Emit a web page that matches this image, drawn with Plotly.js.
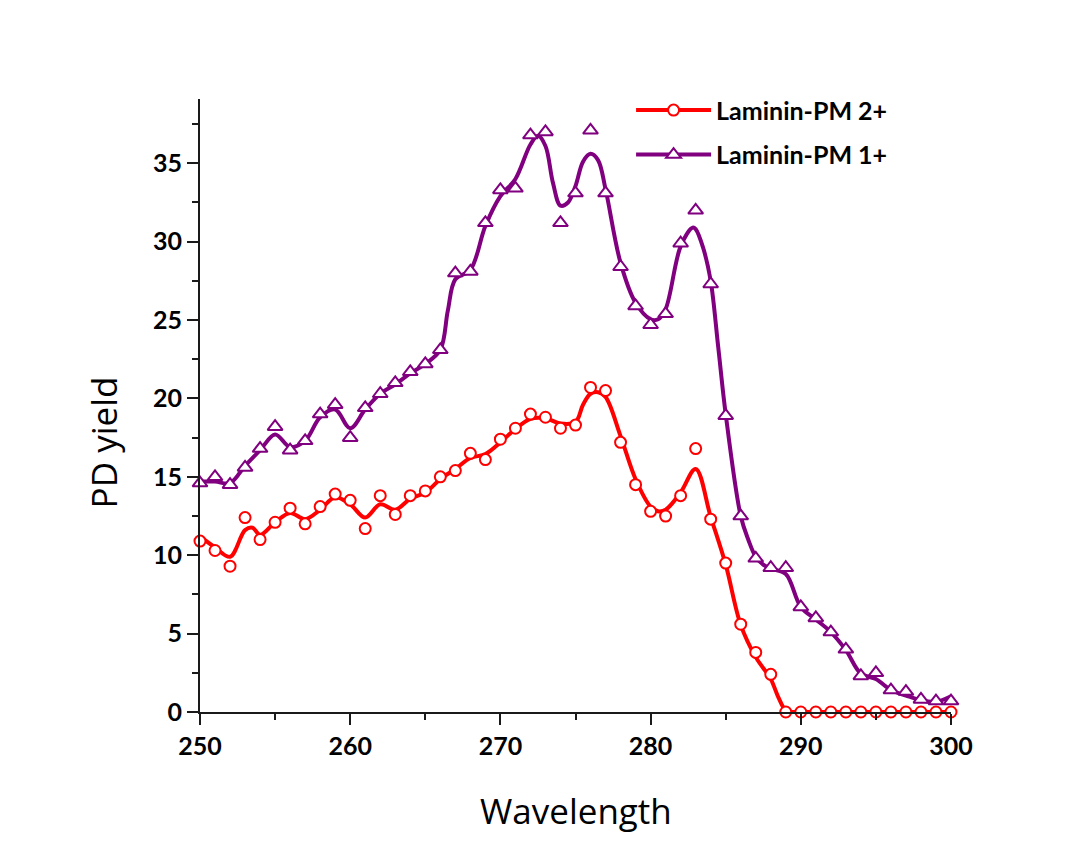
<!DOCTYPE html>
<html>
<head>
<meta charset="utf-8">
<script src="https://cdn.plot.ly/plotly-3.0.1.min.js"></script>
<style>
  html, body { margin: 0; padding: 0; background: #ffffff; }
  #chart { width: 1088px; height: 848px; }
</style>
</head>
<body>
<div id="chart"></div>
<script>
// Measured points (wavelength, nm)
const wavelength = [250,251,252,253,254,255,256,257,258,259,260,261,262,263,264,265,266,267,268,269,270,271,272,273,274,275,276,277,278,279,280,281,282,283,284,285,286,287,288,289,290,291,292,293,294,295,296,297,298,299,300];

// Laminin-PM 2+ (red circles)
const pm2Yield = [10.9,10.3,9.3,12.4,11.0,12.1,13.0,12.0,13.1,13.9,13.5,11.7,13.8,12.6,13.8,14.1,15.0,15.4,16.5,16.1,17.4,18.1,19.0,18.8,18.1,18.3,20.7,20.5,17.2,14.5,12.8,12.5,13.8,16.8,12.3,9.5,5.6,3.8,2.4,0,0,0,0,0,0,0,0,0,0,0,0];

// Laminin-PM 1+ (purple triangles)
const pm1Yield = [14.6,15.0,14.5,15.6,16.8,18.2,16.7,17.3,19.0,19.6,17.5,19.4,20.3,21.0,21.7,22.2,23.1,28.0,28.1,31.2,33.3,33.4,36.8,37.0,31.2,33.1,37.1,33.1,28.4,25.9,24.7,25.4,29.9,32.0,27.3,18.9,12.5,9.8,9.2,9.2,6.7,6.0,5.1,4.0,2.3,2.5,1.4,1.3,0.8,0.7,0.7];

// Smoothed fit curves
const pm2FitX = [250,251,252,253,253.5,254,255,256,257,258,259,260,261,262,263,264,265,266,267,268,269,270,271,272,273,274,275,275.5,276,276.5,277,278,279,280,280.5,281,282,283,284,285,286,287,288,288.5,289,289.5,290,291,292,293,294,295,296,297,298,299,300];
const pm2Fit  = [11.2,10.5,9.9,11.6,11.75,11.3,12.1,12.7,12.3,12.9,13.7,13.25,12.4,13.25,12.9,13.6,14.0,14.85,15.5,16.2,16.45,17.2,18.05,18.7,18.74,18.4,18.5,19.6,20.3,20.4,20.1,17.6,14.85,13.1,12.8,12.9,14.0,15.5,12.45,9.4,5.56,3.5,2.1,0.95,0.1,0,0,0,0,0,0,0,0,0,0,0,0];

const pm1FitX = [250,251,252,253,254,255,256,257,258,259,260,261,262,263,264,265,266,266.5,267,268,269,270,271,272,272.5,273,273.5,274,274.5,275,275.5,276,276.5,277,278,279,280,280.5,281,282,282.8,283,283.5,284,284.5,285,286,286.5,287,287.5,288,289,290,291,292,293,294,295,296,297,298,299,300];
const pm1Fit  = [14.7,14.7,14.6,15.7,16.7,17.7,16.9,17.3,18.8,19.3,18.1,19.3,20.3,20.9,21.6,22.2,23.1,25.6,27.6,28.2,31.0,32.9,34.0,36.2,36.75,36.1,33.75,32.3,32.5,33.55,35.1,35.6,35.2,33.35,28.65,26.1,25.05,25.05,25.7,29.7,30.9,30.8,29.6,27.5,23.3,19.0,12.5,11.0,9.9,9.4,9.15,8.8,6.7,5.9,5.1,3.95,2.45,2.1,1.4,1.05,0.75,0.65,1.0];

const seriesNames = ["Laminin-PM 2+", "Laminin-PM 1+"];
const red = "#ff0000";
const purple = "#800080";

const traces = [
  // legend entries
  {x:[null], y:[null], type:"scatter", mode:"lines+markers", name:seriesNames[0], legendgroup:"a",
   line:{color:red, width:4}, marker:{symbol:"circle", size:11, color:"#ffffff", line:{color:red, width:2}}},
  {x:[null], y:[null], type:"scatter", mode:"lines+markers", name:seriesNames[1], legendgroup:"b",
   line:{color:purple, width:4}, marker:{symbol:"triangle-up", size:13, color:"#ffffff", line:{color:purple, width:2}}},
  // fit lines
  {x:pm2FitX, y:pm2Fit, type:"scatter", mode:"lines", showlegend:false, hoverinfo:"skip",
   line:{color:red, width:4, shape:"spline", smoothing:1}},
  {x:pm1FitX, y:pm1Fit, type:"scatter", mode:"lines", showlegend:false, hoverinfo:"skip",
   line:{color:purple, width:4, shape:"spline", smoothing:1}},
  // measured markers
  {x:wavelength, y:pm2Yield, type:"scatter", mode:"markers", showlegend:false, cliponaxis:false,
   marker:{symbol:"circle", size:11, color:"#ffffff", line:{color:red, width:2}}},
  {x:wavelength, y:pm1Yield, type:"scatter", mode:"markers", showlegend:false, cliponaxis:false,
   marker:{symbol:"triangle-up", size:13, color:"#ffffff", line:{color:purple, width:2}}}
];

const axisCommon = {
  showline:true, linecolor:"#1a1a1a", linewidth:2, mirror:false,
  showgrid:false, zeroline:false,
  ticks:"outside", ticklen:11, tickwidth:2, tickcolor:"#1a1a1a",
  tickfont:{family:"Lato, 'Open Sans', sans-serif", size:25, color:"#000000", weight:"bold"}
};

const layout = {
  width:1088, height:848,
  paper_bgcolor:"#ffffff", plot_bgcolor:"#ffffff",
  margin:{l:200, r:137, t:99, b:136},
  showlegend:true,
  legend:{x:0.574, y:1.019, xanchor:"left", yanchor:"top", bgcolor:"rgba(0,0,0,0)",
          traceorder:"grouped", tracegroupgap:9, itemwidth:75,
          font:{family:"Lato, 'Open Sans', sans-serif", size:25, color:"#000000", weight:"bold"}},
  xaxis:Object.assign({}, axisCommon, {
    range:[250,300], tick0:250, dtick:10,
    minor:{dtick:5, ticklen:6, tickwidth:2, tickcolor:"#1a1a1a", ticks:"outside"}
  }),
  yaxis:Object.assign({}, axisCommon, {
    range:[0,39.1], tick0:0, dtick:5,
    minor:{dtick:2.5, ticklen:6, tickwidth:2, tickcolor:"#1a1a1a", ticks:"outside"}
  }),
  annotations:[
    {text:"Wavelength", xref:"paper", yref:"paper", x:0.5, y:-0.16, xanchor:"center", yanchor:"middle",
     showarrow:false, font:{family:"'Open Sans', sans-serif", size:35, color:"#000000"}},
    {text:"PD yield", xref:"paper", yref:"paper", x:-0.129, y:0.44, xanchor:"center", yanchor:"middle",
     textangle:-90, showarrow:false, font:{family:"'Open Sans', sans-serif", size:35, color:"#000000"}}
  ]
};

Plotly.newPlot("chart", traces, layout, {displayModeBar:false, staticPlot:true});
</script>
</body>
</html>
